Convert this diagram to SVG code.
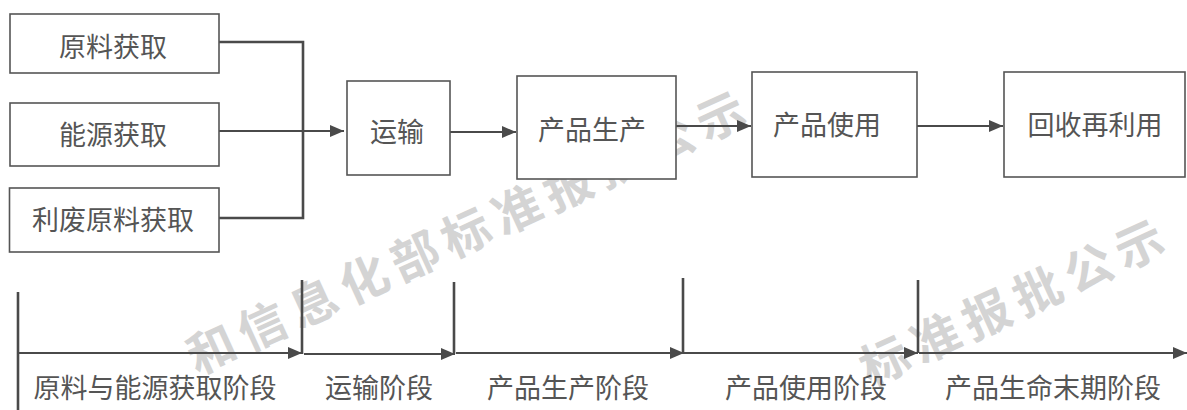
<svg xmlns="http://www.w3.org/2000/svg" width="1187" height="410" viewBox="0 0 1187 410">
<style>
.box{fill:#fff;stroke:#555;stroke-width:1.6}
.t{font-family:"Noto Sans CJK SC","Liberation Sans",sans-serif;font-size:27px;fill:#555;text-anchor:middle}
.ln{fill:none;stroke:#4a4a4a;stroke-width:1.8}
.thick{fill:none;stroke:#4a4a4a;stroke-width:2.6}
.wm{font-family:"Noto Sans CJK SC",sans-serif;font-size:48px;font-weight:bold;fill:#d4d4d4;text-anchor:middle;letter-spacing:8px}
</style>
<defs>
<marker id="ah" viewBox="0 0 14 12" refX="14" refY="6" markerWidth="14" markerHeight="12" markerUnits="userSpaceOnUse" orient="auto">
<path d="M0,0 L14,6 L0,12 Z" fill="#4a4a4a"/>
</marker>
</defs>
<rect width="1187" height="410" fill="#fff"/>
<g id="watermark">
<text class="wm" transform="translate(470,232) rotate(-24.6)" dy="0.35em">和信息化部标准报批公示</text>
<text class="wm" transform="translate(1016,302) rotate(-24.6)" dy="0.35em">标准报批公示</text>
</g>
<g id="connectors">
<path class="thick" d="M219,42 H303 V218 H219"/>
<path class="ln" d="M219,131 H344" marker-end="url(#ah)"/>
<path class="ln" d="M450,132 H516" marker-end="url(#ah)"/>
<path class="ln" d="M676,126 H751" marker-end="url(#ah)"/>
<path class="ln" d="M917,126 H1003" marker-end="url(#ah)"/>
</g>
<g id="n1"><rect class="box" x="10" y="14" width="209" height="59"/><text class="t" x="113" y="57">原料获取</text></g>
<g id="n2"><rect class="box" x="10" y="103" width="209" height="63"/><text class="t" x="113" y="145">能源获取</text></g>
<g id="n3"><rect class="box" x="9.5" y="188" width="209.5" height="64"/><text class="t" x="113" y="230">利废原料获取</text></g>
<g id="n4"><rect class="box" x="347" y="81" width="103" height="94"/><text class="t" x="397" y="142">运输</text></g>
<g id="n5"><rect class="box" x="517" y="76" width="159" height="103"/><text class="t" x="592" y="140">产品生产</text></g>
<g id="n6"><rect class="box" x="752" y="72" width="165" height="105"/><text class="t" x="827" y="135">产品使用</text></g>
<g id="n7"><rect class="box" x="1004" y="72" width="181" height="105"/><text class="t" x="1095" y="135">回收再利用</text></g>
<g id="timeline">
<path class="thick" d="M18,292 V410"/>
<path class="thick" d="M302,280 V354"/>
<path class="thick" d="M454,282 V354"/>
<path class="thick" d="M683,278 V353"/>
<path class="thick" d="M918,280 V353"/>
<path class="ln" d="M18,353 H302" marker-end="url(#ah)"/>
<path class="ln" d="M304,354 H455" marker-end="url(#ah)"/>
<path class="ln" d="M456,353 H684" marker-end="url(#ah)"/>
<path class="ln" d="M684,353 H918" marker-end="url(#ah)"/>
<path class="ln" d="M919,353 H1187" marker-end="url(#ah)"/>
</g>
<g id="labels">
<text class="t" x="155" y="398">原料与能源获取阶段</text>
<text class="t" x="379" y="398">运输阶段</text>
<text class="t" x="568" y="398">产品生产阶段</text>
<text class="t" x="806" y="398">产品使用阶段</text>
<text class="t" x="1053" y="398">产品生命末期阶段</text>
</g>
</svg>
